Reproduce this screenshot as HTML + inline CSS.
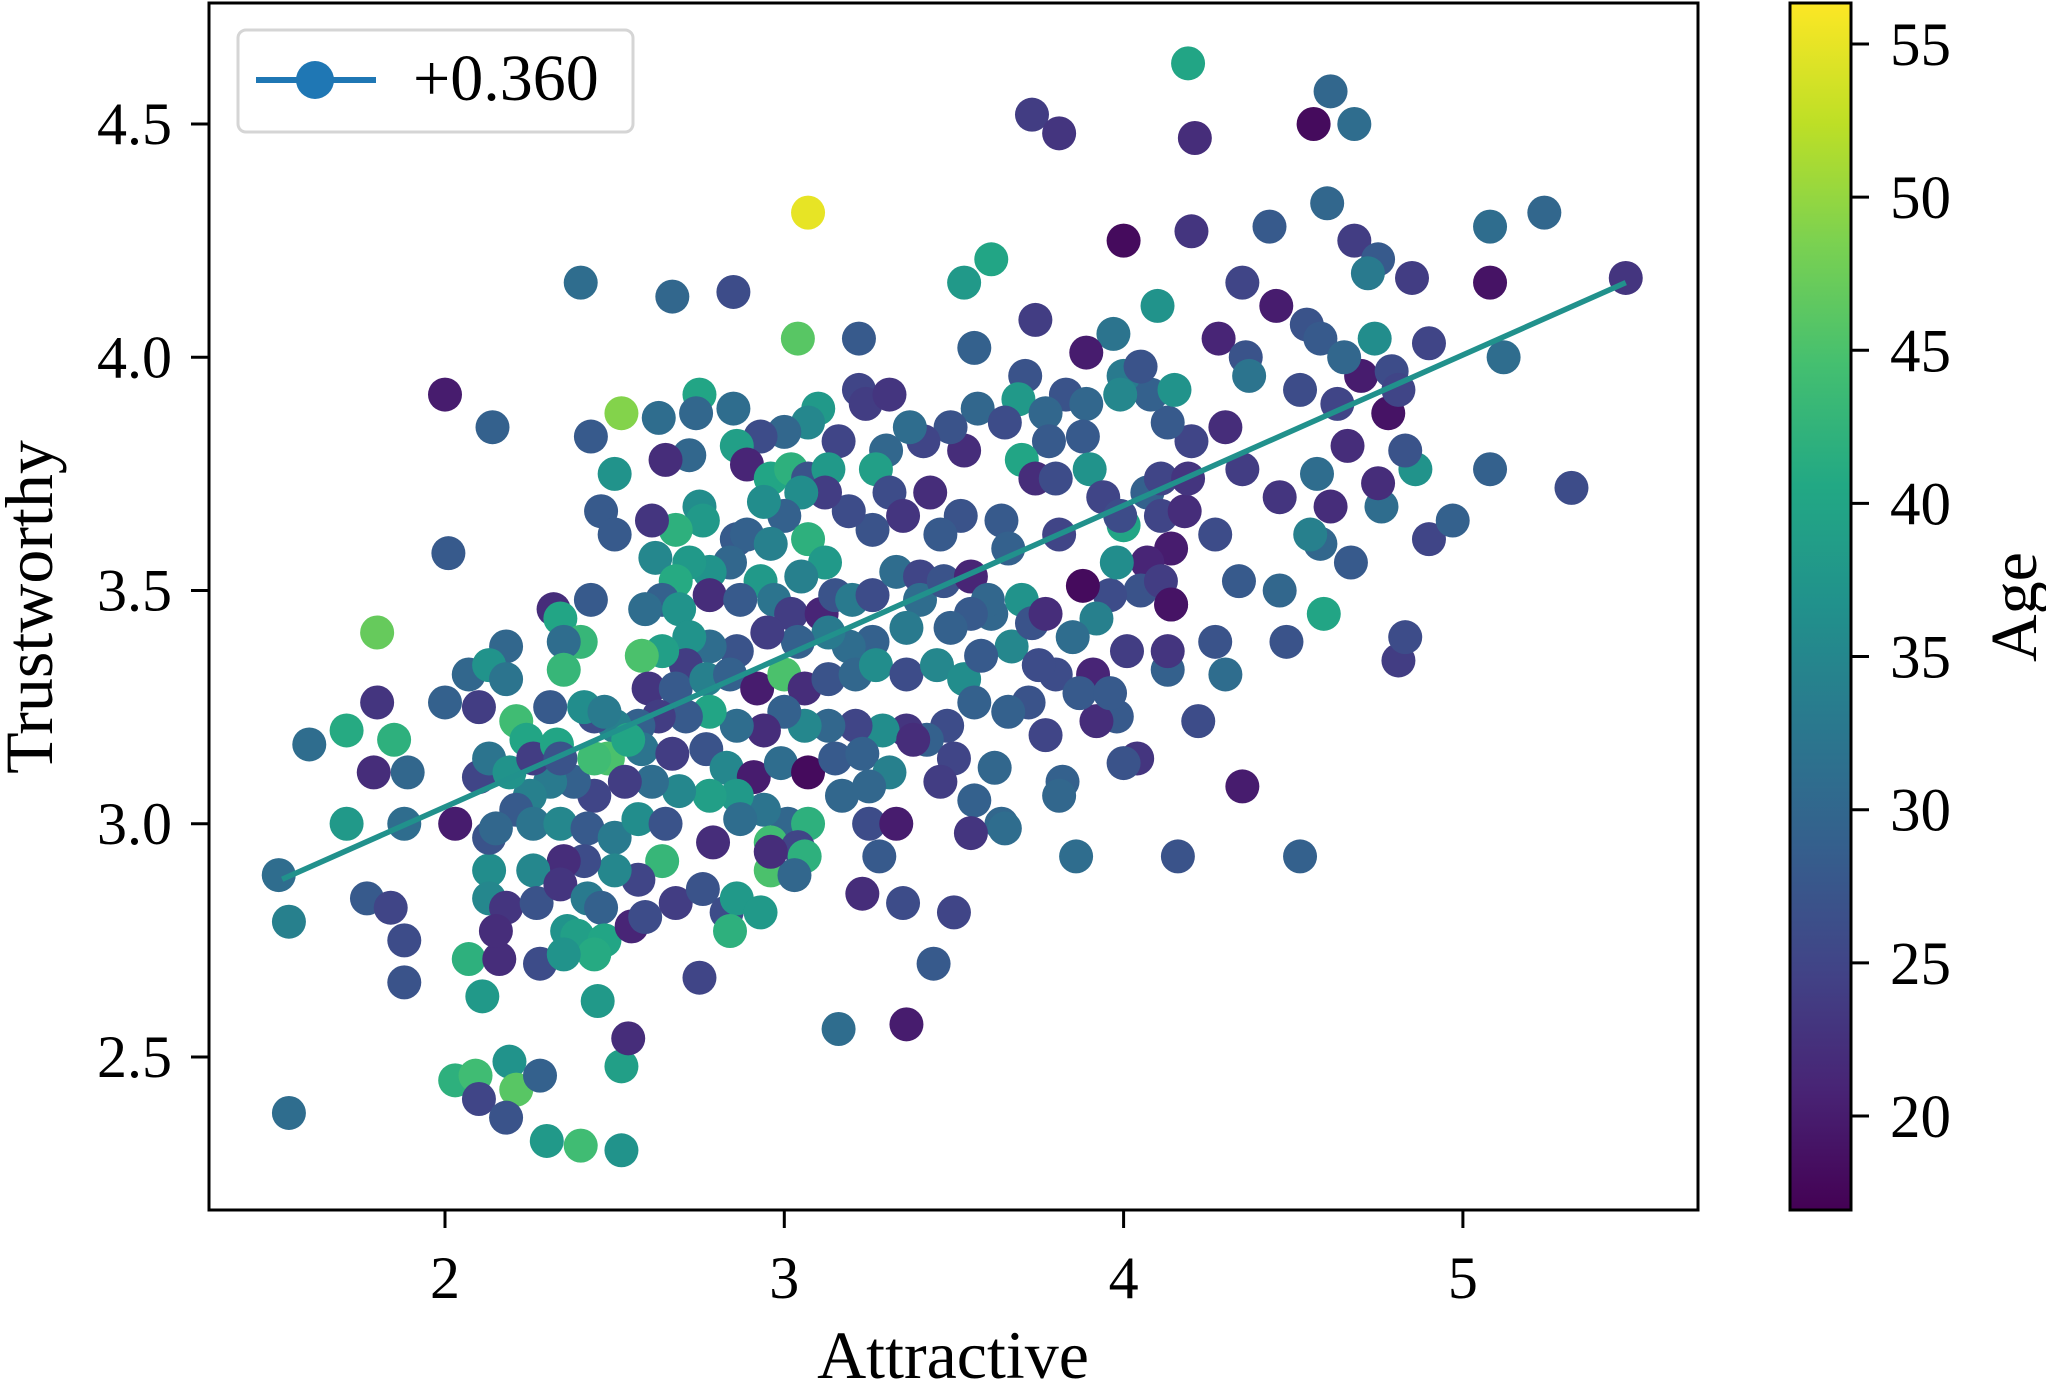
<!DOCTYPE html>
<html><head><meta charset="utf-8"><style>
html,body{margin:0;padding:0;background:#fff}
svg{display:block;font-family:"Liberation Serif",serif}
</style></head><body>
<svg id="chart" width="2046" height="1392" viewBox="0 0 2046 1392" xmlns="http://www.w3.org/2000/svg">
<defs>
<linearGradient id="vir" x1="0" y1="1" x2="0" y2="0">
<stop offset="0" stop-color="#440154"/><stop offset="0.1" stop-color="#482475"/><stop offset="0.2" stop-color="#414487"/><stop offset="0.3" stop-color="#355f8d"/><stop offset="0.4" stop-color="#2a788e"/><stop offset="0.5" stop-color="#21918c"/><stop offset="0.6" stop-color="#22a884"/><stop offset="0.7" stop-color="#44bf70"/><stop offset="0.8" stop-color="#7ad151"/><stop offset="0.9" stop-color="#bddf26"/><stop offset="1" stop-color="#fde725"/>
</linearGradient>
<clipPath id="pc"><rect x="209" y="3" width="1489" height="1207"/></clipPath>
</defs>
<g id="points" clip-path="url(#pc)"></g>
<line id="fit" stroke="#21918c" stroke-width="5.5"/>
<rect x="209" y="3" width="1489" height="1207" fill="none" stroke="#000" stroke-width="3"/>
<g id="xticks"></g>
<g id="yticks"></g>
<text x="953" y="1378" font-size="68" text-anchor="middle">Attractive</text>
<text transform="translate(52,607) rotate(-90)" font-size="68" text-anchor="middle">Trustworthy</text>
<g>
<rect x="238" y="30" width="395" height="102" rx="8" fill="#fff" stroke="#d5d5d5" stroke-width="3"/>
<line x1="256" y1="80" x2="376" y2="80" stroke="#1f77b4" stroke-width="6"/>
<circle cx="315" cy="80" r="19" fill="#1f77b4"/>
<text x="413" y="100" font-size="66">+0.360</text>
</g>
<rect x="1790" y="3" width="61" height="1207" fill="url(#vir)" stroke="#000" stroke-width="3"/>
<g id="cticks"></g>
<text transform="translate(2036,607) rotate(-90)" font-size="66" text-anchor="middle">Age</text>
</svg>
<script>
const attractive=[4.19,3.07,3.73,3.81,4.21,4.56,4.61,4.68,4.60,5.08,5.24,5.48,5.08,5.12,4.90,4.85,4.68,4.75,4.72,4.43,4.20,4.00,3.61,3.53,4.35,4.45,4.10,3.74,3.56,3.22,3.04,2.85,2.67,2.40,2.00,2.14,2.01,1.80,1.80,1.60,1.71,1.71,1.51,1.54,1.77,1.84,1.88,1.88,1.89,1.79,1.85,1.88,1.54,2.03,2.09,2.19,2.21,2.10,2.18,2.28,2.30,2.40,2.52,2.52,2.54,2.45,2.11,2.07,2.16,2.28,2.75,3.16,3.36,3.44,3.50,3.35,3.23,3.64,3.86,4.16,4.52,4.35,4.04,4.00,3.82,4.22,4.30,4.27,4.13,4.13,3.98,4.34,4.27,4.46,4.59,4.81,4.83,4.90,4.97,5.08,5.32,4.86,4.76,4.83,4.75,4.67,4.58,4.55,4.46,4.35,4.30,4.20,4.13,4.08,4.15,4.28,4.36,4.37,4.52,4.54,4.58,4.63,4.70,4.74,4.78,4.79,4.81,4.65,4.66,4.61,4.57,4.00,4.00,3.99,4.05,3.97,3.89,3.83,3.71,3.69,3.57,3.65,3.77,3.89,3.88,3.78,3.70,3.74,3.80,3.90,3.94,3.99,4.07,4.11,4.11,4.18,4.19,4.14,4.07,4.05,4.11,4.14,3.96,3.88,3.92,3.85,3.91,3.80,3.72,3.66,3.67,3.61,3.64,3.66,3.81,3.52,3.46,3.43,3.53,3.49,3.41,3.37,3.30,3.27,3.31,3.35,3.26,3.19,3.16,3.22,3.24,3.31,3.10,3.07,3.00,2.93,2.85,2.75,2.74,2.63,2.72,2.65,2.86,2.89,2.96,3.02,3.07,3.13,3.12,3.05,3.00,2.94,2.75,2.76,2.68,2.61,2.50,2.43,2.46,2.50,2.52,2.86,2.89,2.96,3.07,3.12,3.05,2.93,2.84,2.78,2.72,2.62,2.68,2.64,2.59,2.69,2.78,2.87,2.97,3.02,3.11,3.15,3.20,3.26,3.33,3.40,3.40,3.47,3.55,3.60,3.55,3.49,3.36,3.26,3.19,3.13,3.04,2.95,2.86,2.78,2.72,2.71,2.64,2.58,2.60,2.68,2.77,2.84,2.92,3.00,3.06,3.13,3.21,3.27,3.36,3.45,3.53,3.56,3.48,3.42,3.36,3.29,3.21,3.13,3.06,3.00,2.94,2.86,2.78,2.71,2.63,2.57,2.50,2.44,2.48,2.58,2.67,2.77,2.83,2.91,2.99,3.07,3.15,3.23,3.31,3.38,3.50,3.46,3.17,3.25,3.25,3.33,3.28,3.01,3.07,2.94,2.86,2.78,2.69,2.61,2.53,2.44,2.38,2.31,2.25,2.21,2.26,2.34,2.42,2.50,2.57,2.65,2.79,2.87,2.96,3.04,3.06,2.96,3.03,2.96,2.64,2.57,2.50,2.41,2.35,2.26,2.13,2.13,2.18,2.27,2.34,2.42,2.46,2.36,2.39,2.47,2.55,2.59,2.68,2.76,2.83,2.86,2.93,2.84,2.15,2.44,2.35,2.43,2.32,2.34,2.40,2.35,2.18,2.07,2.13,2.18,2.00,2.10,2.31,2.41,2.47,2.21,2.24,2.10,2.13,2.19,2.26,2.33,2.34,2.03,2.13,2.15,2.35,2.44,2.54,3.92,3.87,3.75,3.62,3.77,3.81,3.56,3.55,3.65,3.58,3.70,3.73,3.77,4.01,3.96,3.98,4.14,4.48];
const trustworthy=[4.63,4.31,4.52,4.48,4.47,4.50,4.57,4.50,4.33,4.28,4.31,4.17,4.16,4.00,4.03,4.17,4.25,4.21,4.18,4.28,4.27,4.25,4.21,4.16,4.16,4.11,4.11,4.08,4.02,4.04,4.04,4.14,4.13,4.16,3.92,3.85,3.58,3.41,3.26,3.17,3.20,3.00,2.89,2.79,2.84,2.82,2.75,2.66,3.11,3.11,3.18,3.00,2.38,2.45,2.46,2.49,2.43,2.41,2.37,2.46,2.32,2.31,2.30,2.48,2.54,2.62,2.63,2.71,2.71,2.70,2.67,2.56,2.57,2.70,2.81,2.83,2.85,3.00,2.93,2.93,2.93,3.08,3.14,3.13,3.09,3.22,3.32,3.39,3.33,3.37,3.23,3.52,3.62,3.50,3.45,3.35,3.40,3.61,3.65,3.76,3.72,3.76,3.68,3.80,3.73,3.56,3.60,3.62,3.70,3.76,3.85,3.82,3.86,3.92,3.93,4.04,4.00,3.96,3.93,4.07,4.04,3.90,3.96,4.04,3.88,3.97,3.93,4.00,3.81,3.68,3.75,3.64,3.96,3.92,3.98,4.05,4.01,3.92,3.96,3.91,3.89,3.86,3.88,3.90,3.83,3.82,3.78,3.74,3.74,3.76,3.70,3.66,3.71,3.74,3.66,3.67,3.74,3.59,3.56,3.50,3.52,3.47,3.49,3.51,3.44,3.40,3.32,3.32,3.26,3.24,3.38,3.45,3.65,3.59,3.62,3.66,3.62,3.71,3.80,3.85,3.82,3.85,3.80,3.76,3.71,3.66,3.63,3.67,3.82,3.93,3.90,3.92,3.89,3.86,3.84,3.83,3.89,3.92,3.88,3.87,3.79,3.78,3.81,3.77,3.74,3.76,3.74,3.76,3.71,3.71,3.66,3.69,3.68,3.65,3.63,3.65,3.75,3.83,3.67,3.62,3.88,3.61,3.62,3.60,3.61,3.56,3.53,3.52,3.56,3.54,3.56,3.57,3.52,3.48,3.46,3.46,3.49,3.48,3.48,3.45,3.45,3.49,3.48,3.49,3.54,3.53,3.48,3.52,3.53,3.48,3.45,3.42,3.42,3.39,3.38,3.41,3.39,3.41,3.37,3.38,3.40,3.34,3.37,3.36,3.29,3.29,3.31,3.32,3.29,3.32,3.29,3.31,3.32,3.34,3.32,3.34,3.31,3.26,3.21,3.18,3.20,3.20,3.21,3.21,3.21,3.24,3.20,3.21,3.24,3.23,3.23,3.21,3.21,3.23,3.14,3.16,3.15,3.16,3.12,3.10,3.13,3.11,3.14,3.15,3.11,3.18,3.14,3.09,3.06,3.08,3.00,3.00,2.93,3.00,3.00,3.03,3.06,3.06,3.07,3.09,3.09,3.06,3.09,3.09,3.06,3.03,3.00,3.00,2.99,2.97,3.01,3.00,2.96,3.01,2.96,2.95,2.93,2.90,2.89,2.94,2.92,2.88,2.90,2.92,2.92,2.90,2.90,2.84,2.82,2.83,2.87,2.84,2.82,2.77,2.76,2.75,2.78,2.80,2.83,2.86,2.81,2.84,2.81,2.77,2.77,2.72,2.72,3.48,3.46,3.44,3.39,3.39,3.38,3.32,3.34,3.31,3.26,3.25,3.25,3.25,3.24,3.22,3.18,3.10,3.14,3.11,3.14,3.17,3.14,3.00,2.97,2.99,3.33,3.14,3.18,3.22,3.28,3.34,3.12,3.19,3.06,3.05,2.98,2.99,3.36,3.48,3.43,3.45,3.37,3.28,3.56,3.47,3.39];
const age=[40,55,24,23,22,18,30,31,30,31,30,23,19,31,25,24,24,28,33,28,23,18,40,38,25,20,37,24,29,28,46,26,30,31,20,29,28,47,23,31,41,38,31,34,28,25,26,27,30,22,42,31,31,42,44,37,46,25,27,29,38,44,37,39,22,38,38,42,22,26,25,31,20,28,25,26,22,30,31,27,29,20,23,27,29,26,31,27,29,23,28,28,26,30,40,24,26,25,29,29,26,37,31,27,22,28,30,34,23,24,22,25,28,29,37,21,27,32,26,27,28,25,20,36,19,26,25,30,22,22,31,40,33,35,27,32,20,27,27,38,30,26,30,30,28,28,40,22,26,37,25,26,29,25,25,22,23,20,21,27,24,21,26,18,34,31,21,26,27,29,35,30,28,29,25,27,28,22,22,27,25,31,30,39,26,23,27,26,25,25,24,23,38,35,30,26,31,40,30,31,30,22,39,21,40,42,27,38,24,36,29,36,36,38,42,23,37,28,28,28,49,28,29,34,42,38,34,38,30,37,38,35,41,29,31,37,22,28,32,24,21,27,33,26,31,25,31,27,21,30,28,29,33,29,31,33,29,24,27,31,37,24,39,45,23,28,34,29,20,45,22,27,30,36,26,35,36,29,26,29,23,36,25,30,35,29,22,31,40,28,24,29,34,26,45,32,24,27,35,20,31,18,28,29,34,22,25,24,30,30,26,20,28,30,42,32,38,39,35,31,24,25,29,33,34,28,32,35,28,33,36,27,22,31,44,25,42,45,30,22,43,25,35,26,22,35,36,35,23,27,23,33,29,37,39,40,21,26,24,27,26,38,38,42,22,41,37,28,22,40,43,31,30,30,37,32,29,24,28,36,33,44,40,25,32,37,24,40,27,20,27,30,43,44,40,22,28,26,30,25,30,29,23,31,28,37,27,22,24,28,36,19,27,21];
const xTicks=[2,3,4,5];
const yTicks=[2.5,3.0,3.5,4.0,4.5];
const yTickLabels=["2.5","3.0","3.5","4.0","4.5"];
const cTicks=[20,25,30,35,40,45,50,55];
const fitX=[1.52,5.48];
const fitSlope=0.323;
const fitIntercept=2.39;

const xScale=v=>445+(v-2)*339.3;
const yScale=v=>124+(4.5-v)*466.5;
const cScale=v=>1116-(v-20)*30.63;
const VMIN=16.93,VMAX=56.34;
const vir=["#440154","#482475","#414487","#355f8d","#2a788e","#21918c","#22a884","#44bf70","#7ad151","#bddf26","#fde725"];
function hex(h){return [1,3,5].map(i=>parseInt(h.substr(i,2),16));}
function color(a){let t=Math.max(0,Math.min(1,(a-VMIN)/(VMAX-VMIN)))*10;let i=Math.min(9,Math.floor(t)),f=t-i;const c0=hex(vir[i]),c1=hex(vir[i+1]);return "rgb("+c0.map((c,k)=>Math.round(c+(c1[k]-c)*f)).join(",")+")";}
const NS="http://www.w3.org/2000/svg";
function mk(tag,attrs,parent){const e=document.createElementNS(NS,tag);for(const k in attrs)e.setAttribute(k,attrs[k]);parent.appendChild(e);return e;}
const pg=document.getElementById('points');
for(let i=0;i<attractive.length;i++){
 const c=mk('circle',{cx:xScale(attractive[i]),cy:yScale(trustworthy[i]),r:17,fill:color(age[i])},pg);
 
 
}
const fit=document.getElementById('fit');
fit.setAttribute('x1',xScale(fitX[0]));fit.setAttribute('y1',yScale(fitIntercept+fitSlope*fitX[0]));
fit.setAttribute('x2',xScale(fitX[1]));fit.setAttribute('y2',yScale(fitIntercept+fitSlope*fitX[1]));
const xg=document.getElementById('xticks');
xTicks.forEach(v=>{const x=xScale(v);
 const l=mk('line',{x1:x,y1:1210,x2:x,y2:1228,stroke:'#000','stroke-width':3},xg);
 
 
 const t=mk('text',{x:x,y:1298,'font-size':60,'text-anchor':'middle'},xg);t.textContent=v;
 
 
});
const yg=document.getElementById('yticks');
yTicks.forEach((v,i)=>{const y=yScale(v);
 const l=mk('line',{x1:191,y1:y,x2:209,y2:y,stroke:'#000','stroke-width':3},yg);
 
 
 const t=mk('text',{x:172,y:y+20,'font-size':60,'text-anchor':'end'},yg);t.textContent=yTickLabels[i];
 
 
});
const cg=document.getElementById('cticks');
cTicks.forEach(v=>{const y=cScale(v);
 const l=mk('line',{x1:1851,y1:y,x2:1869,y2:y,stroke:'#000','stroke-width':3},cg);
 
 
 const t=mk('text',{x:1890,y:y+21,'font-size':61},cg);t.textContent=v;
 
 
});
</script>
</body></html>
